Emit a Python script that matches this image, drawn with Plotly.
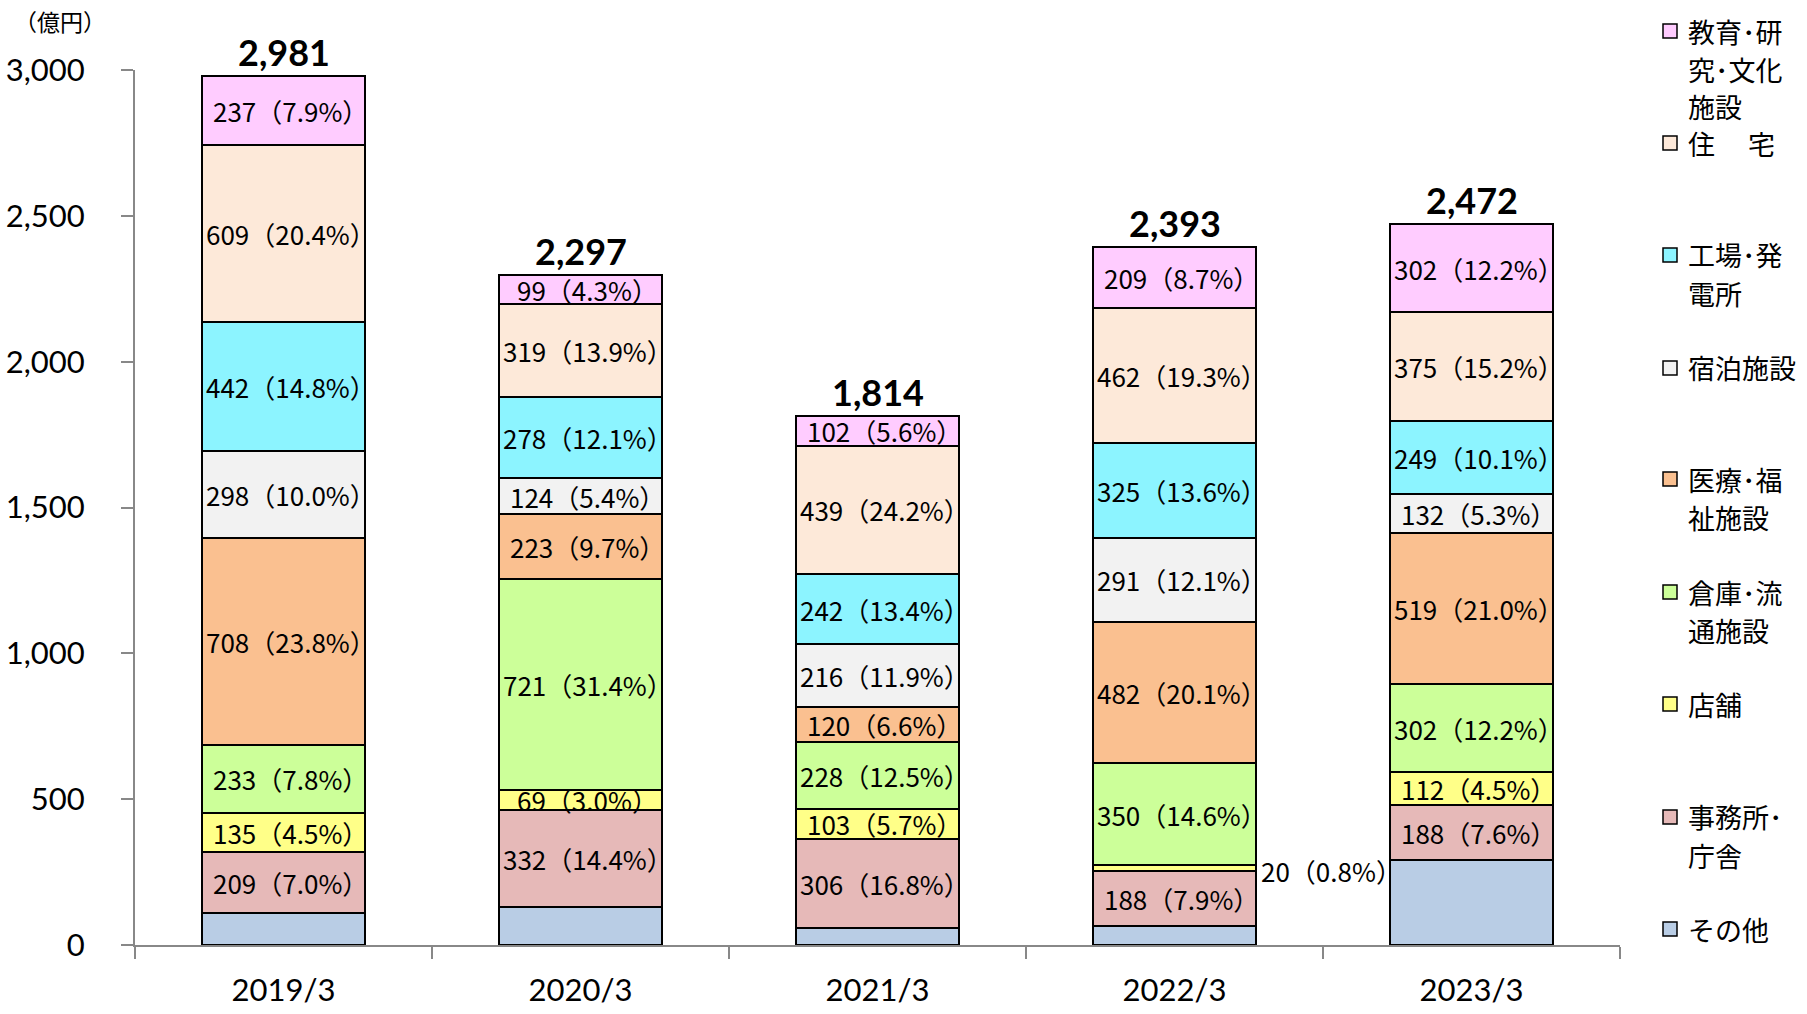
import plotly.graph_objects as go

years = ["2019/3", "2020/3", "2021/3", "2022/3", "2023/3"]
totals = [2981, 2297, 1814, 2393, 2472]

# series from bottom to top
series_names = ["その他", "事務所・庁舎", "店舗", "倉庫・流通施設", "医療・福祉施設",
                "宿泊施設", "工場・発電所", "住宅", "教育・研究・文化施設"]
sonota = [110, 132, 58, 66, 293]
jimusho = [209, 332, 306, 188, 188]
tenpo = [135, 69, 103, 20, 112]
souko = [233, 721, 228, 350, 302]
iryo = [708, 223, 120, 482, 519]
shukuhaku = [298, 124, 216, 291, 132]
kojo = [442, 278, 242, 325, 249]
jutaku = [609, 319, 439, 462, 375]
kyoiku = [237, 99, 102, 209, 302]

pct_sonota = [None, None, None, None, None]
pct_jimusho = ["7.0", "14.4", "16.8", "7.9", "7.6"]
pct_tenpo = ["4.5", "3.0", "5.7", "0.8", "4.5"]
pct_souko = ["7.8", "31.4", "12.5", "14.6", "12.2"]
pct_iryo = ["23.8", "9.7", "6.6", "20.1", "21.0"]
pct_shukuhaku = ["10.0", "5.4", "11.9", "12.1", "5.3"]
pct_kojo = ["14.8", "12.1", "13.4", "13.6", "10.1"]
pct_jutaku = ["20.4", "13.9", "24.2", "19.3", "15.2"]
pct_kyoiku = ["7.9", "4.3", "5.6", "8.7", "12.2"]

values = [sonota, jimusho, tenpo, souko, iryo, shukuhaku, kojo, jutaku, kyoiku]
pcts = [pct_sonota, pct_jimusho, pct_tenpo, pct_souko, pct_iryo,
        pct_shukuhaku, pct_kojo, pct_jutaku, pct_kyoiku]
colors = ["#B9CDE5", "#E6B9B8", "#FFFF88", "#CCFF99", "#FAC090",
          "#F2F2F2", "#8CF4FF", "#FDE9D9", "#FFCCFF"]

legend_lines = [
    (["教育･研", "究･文化", "施設"], 31),
    (["住　 宅"], 143),
    (["工場･発", "電所"], 255),
    (["宿泊施設"], 368),
    (["医療･福", "祉施設"], 479),
    (["倉庫･流", "通施設"], 592),
    (["店舗"], 704),
    (["事務所･", "庁舎"], 817),
    (["その他"], 929),
]
legend_colors = colors[::-1]

NUM_FONT = "Lato, sans-serif"
JP_FONT = "'Noto Sans CJK JP', sans-serif"

W, H = 1807, 1014
PL, PR, PT, PB = 135, 1620, 70, 945  # plot area in page pixels


def xp(px):
    return (px - PL) / (PR - PL)


def yp(py):
    return (PB - py) / (PB - PT)


fig = go.Figure()
for name, vals, col in zip(series_names, values, colors):
    fig.add_trace(go.Bar(
        x=years, y=vals, name=name, marker=dict(color=col, line=dict(color="black", width=2)),
        width=0.55, showlegend=False,
    ))

annotations = []
cum = [0] * len(years)
for vals, pc in zip(values, pcts):
    for i, v in enumerate(vals):
        mid = cum[i] + v / 2
        if pc[i] is not None:
            txt = f"{v}（{pc[i]}%）"
            if v < 40:
                annotations.append(dict(x=years[i], y=mid, text=txt, showarrow=False,
                                        xanchor="left", yanchor="middle", xshift=84, yshift=-2,
                                        font=dict(size=26, color="black", family=JP_FONT)))
            else:
                annotations.append(dict(x=years[i], y=mid, text=txt, showarrow=False,
                                        xanchor="center", yanchor="middle", xshift=7,
                                        font=dict(size=26, color="black", family=JP_FONT)))
        cum[i] += v

for i, t in enumerate(totals):
    annotations.append(dict(x=years[i], y=t, text=f"<b>{t:,}</b>", showarrow=False,
                            xanchor="center", yanchor="bottom", yshift=0,
                            font=dict(size=36, color="black", family=NUM_FONT)))

annotations.append(dict(xref="paper", yref="paper", x=xp(60), y=yp(21), text="（億円）",
                        showarrow=False, xanchor="center", yanchor="middle",
                        font=dict(size=23, color="black", family=JP_FONT)))

shapes = []
for (lines, ytop), col in zip(legend_lines, legend_colors):
    shapes.append(dict(type="rect", xref="paper", yref="paper",
                       x0=xp(1663), x1=xp(1677), y0=yp(ytop - 7), y1=yp(ytop + 7),
                       fillcolor=col, line=dict(color="black", width=1.5)))
    for k, ln in enumerate(lines):
        annotations.append(dict(xref="paper", yref="paper", x=xp(1686), y=yp(ytop + 38 * k),
                                text=ln, showarrow=False, xanchor="left", yanchor="middle",
                                font=dict(size=27, color="black", family=JP_FONT)))

fig.update_layout(
    barmode="stack",
    bargap=0.45,
    width=W, height=H,
    margin=dict(l=PL, r=W - PR, t=PT, b=H - PB, autoexpand=False),
    paper_bgcolor="white", plot_bgcolor="white",
    annotations=annotations, shapes=shapes,
    font=dict(family=NUM_FONT, color="black"),
)
fig.update_xaxes(
    automargin=False,
    showline=True, linecolor="#888888", linewidth=2,
    ticks="outside", tickson="boundaries", ticklen=12, tickcolor="#888888", tickwidth=2,
    tickfont=dict(size=31, family=NUM_FONT, color="black"),
    ticklabelstandoff=17,
)
fig.update_yaxes(
    automargin=False,
    range=[0, 3000], tickvals=[0, 500, 1000, 1500, 2000, 2500, 3000], tickformat=",",
    showline=True, linecolor="#888888", linewidth=2,
    ticks="outside", ticklen=12, tickcolor="#888888", tickwidth=2,
    showgrid=False, zeroline=False,
    tickfont=dict(size=31, family=NUM_FONT, color="black"),
    ticklabelstandoff=30,
)

fig.write_html("out.html", config={"displayModeBar": False},
               post_script="document.body.style.margin='0';document.body.style.overflow='hidden';")
